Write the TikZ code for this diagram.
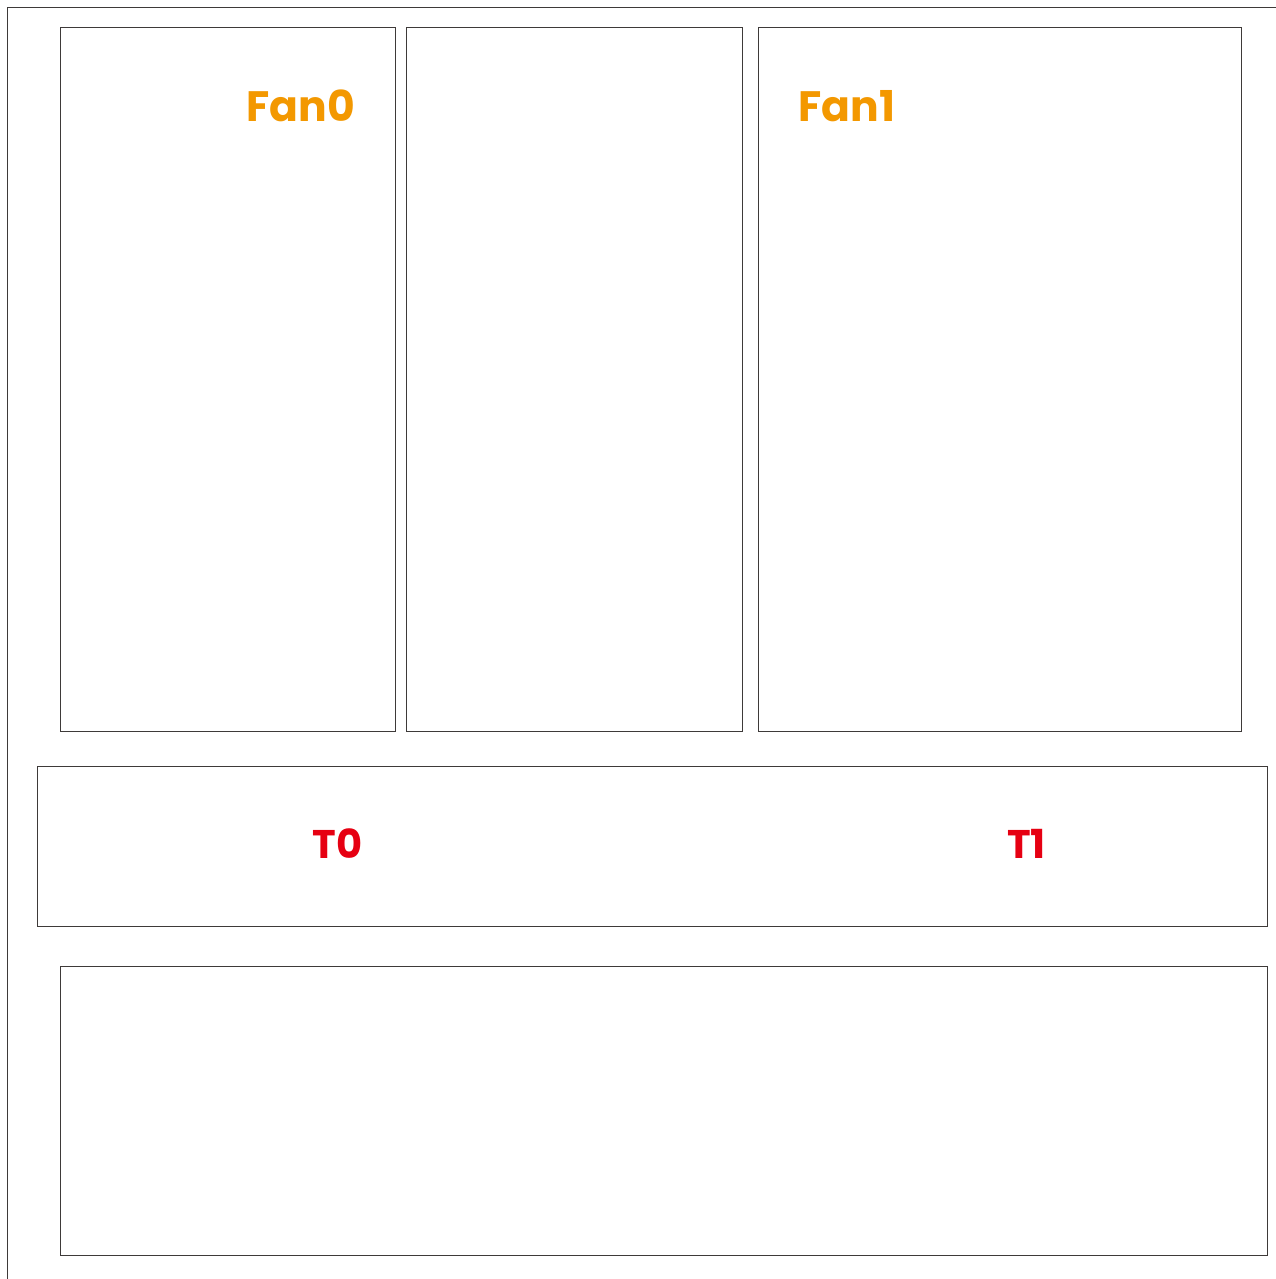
\documentclass[tikz,border=0pt]{standalone}
\usepackage{fontspec}
\setmainfont{Poppins}
\definecolor{linec}{HTML}{3E3A39}
\definecolor{fanc}{HTML}{F39800}
\definecolor{tc}{HTML}{E60012}
\begin{document}
\begin{tikzpicture}[x=1pt,y=-1pt,
  panel/.style={draw=linec,line width=0.9pt},
  fanlabel/.style={text=fanc,font=\fontsize{42.5}{42.5}\selectfont\bfseries,inner sep=0pt,anchor=base},
  tlabel/.style={text=tc,font=\fontsize{40}{40}\selectfont\bfseries,inner sep=0pt,anchor=base}]
\useasboundingbox (0,0) rectangle (1276,1279);
\fill[white] (0,0) rectangle (1276,1279);
% outer frame lines
\coordinate (tl) at (7.5,7.5);
\coordinate (tr) at (1276,7.5);
\coordinate (bl) at (7.5,1279);
\draw[linec,line width=1.3pt] (tr) -- (tl) -- (bl);
% panels
\draw[panel] (60,27) rectangle (395,731);
\draw[panel] (406,27) rectangle (742,731);
\draw[panel] (758,27) rectangle (1241,731);
\draw[panel] (37,766) rectangle (1267,926);
\draw[panel] (60,966) rectangle (1267,1255);
% labels
\node[fanlabel] (fan0) at (300.5,122) {Fan0};
\node[fanlabel] (fan1) at (847,122) {Fan1};
\node[tlabel] (t0) at (337.5,858) {T0};
\node[tlabel] (t1) at (1026.5,858) {T1};
\end{tikzpicture}
\end{document}
